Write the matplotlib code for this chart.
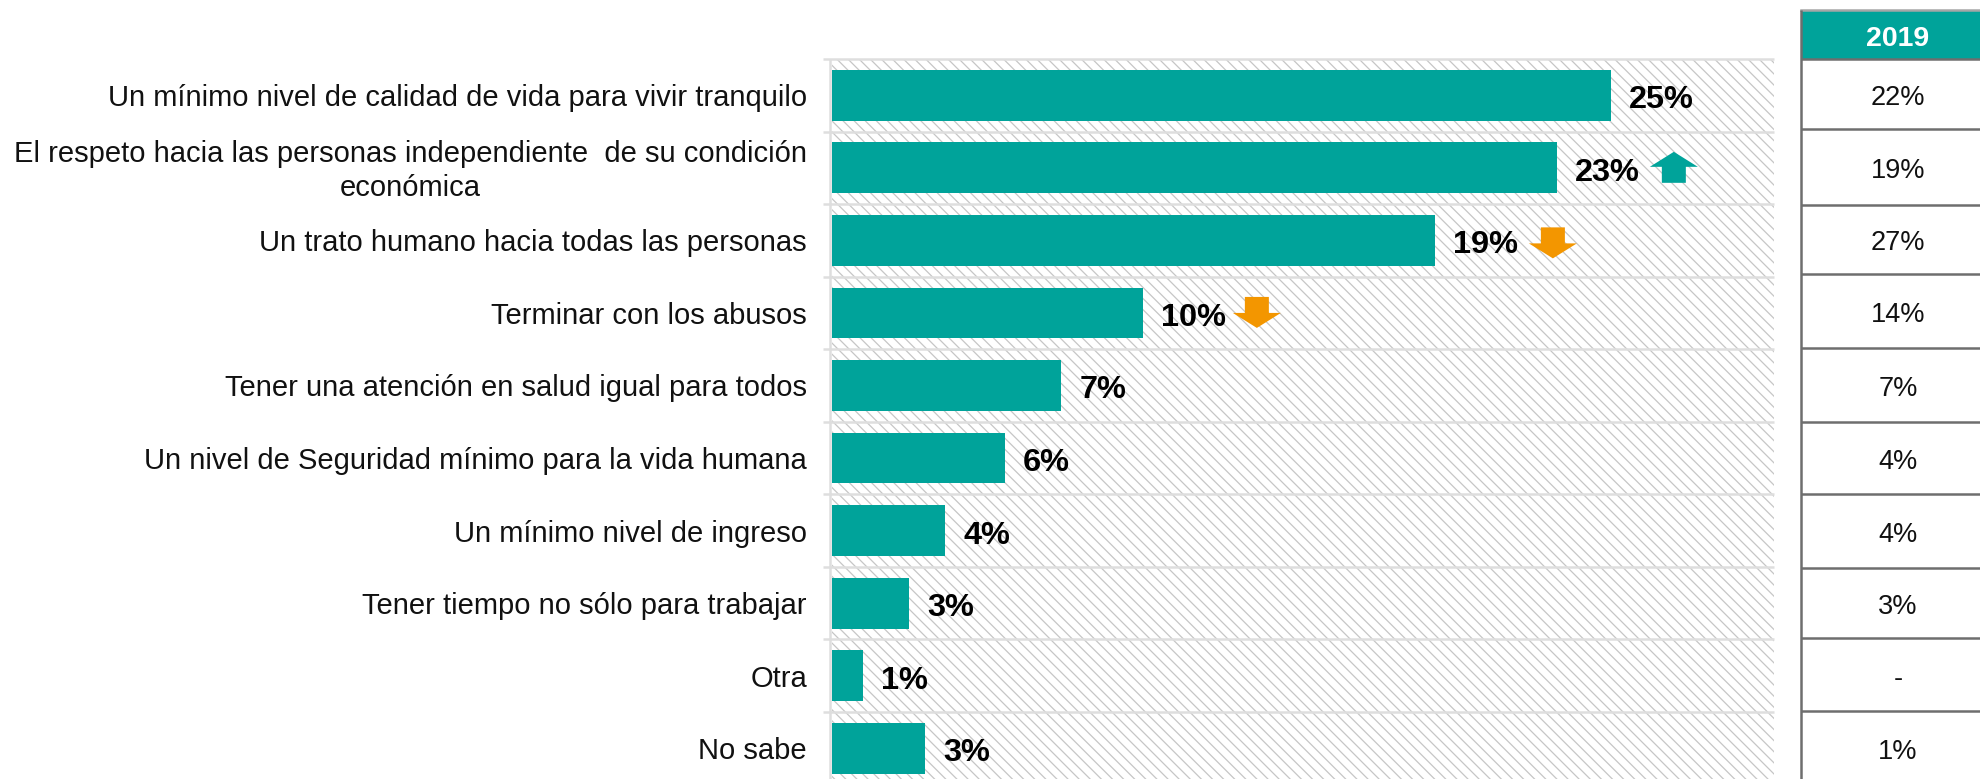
import matplotlib
matplotlib.use("Agg")
import matplotlib.pyplot as plt
from matplotlib.patches import Rectangle, Polygon

plt.rcParams['font.family'] = ['Liberation Sans', 'DejaVu Sans']
plt.rcParams['hatch.linewidth'] = 0.9
plt.rcParams['hatch.color'] = '#c6c6c6'

categorias = [
    "Un mínimo nivel de calidad de vida para vivir tranquilo",
    "El respeto hacia las personas independiente  de su condición\neconómica",
    "Un trato humano hacia todas las personas",
    "Terminar con los abusos",
    "Tener una atención en salud igual para todos",
    "Un nivel de Seguridad mínimo para la vida humana",
    "Un mínimo nivel de ingreso",
    "Tener tiempo no sólo para trabajar",
    "Otra",
    "No sabe",
]
valores = [24.8, 23.1, 19.2, 9.9, 7.3, 5.5, 3.6, 2.45, 1.0, 2.96]
etiquetas = ["25%", "23%", "19%", "10%", "7%", "6%", "4%", "3%", "1%", "3%"]
valores_2019 = ["22%", "19%", "27%", "14%", "7%", "4%", "4%", "3%", "-", "1%"]
cambios = [0, 1, -1, -1, 0, 0, 0, 0, 0, 0]

VERDE = '#00a39a'
NARANJA = '#f39600'
GRIS = '#dedede'
W, H = 1980, 779
filas = len(categorias)

fig = plt.figure(figsize=(W / 100, H / 100), dpi=100)

# GRAFICO DE BARRAS
# la ultima fila queda cortada por el borde como en el original
ax_top, ax_alto = 59, 72.55 * filas
ax = fig.add_axes([832 / W, 1 - (ax_top + ax_alto) / H, (1774 - 832) / W, ax_alto / H])
ax.set_xlim(0, 30)
ax.set_ylim(filas, 0)
ax.patch.set_visible(False)
ax.set_xticks([])
ax.set_yticks([])
for s in ax.spines.values():
    s.set_visible(False)

ax.add_patch(Rectangle((0, 0), 30, filas, facecolor='white', edgecolor='#c6c6c6',
                       hatch='\\\\\\', linewidth=0, zorder=0))

pos = [i + 0.5 for i in range(filas)]
ax.barh(pos, valores, height=0.7, color=VERDE, zorder=2)

px_x = 30 / (1774 - 832)
for i in range(filas + 1):
    ax.plot([-9 * px_x, 30], [i, i], color=GRIS, lw=1.8, zorder=1, clip_on=False, solid_capstyle='butt')
ax.plot([-2 * px_x, -2 * px_x], [0, filas], color=GRIS, lw=1.8, zorder=1, clip_on=False, solid_capstyle='butt')

for i in range(filas):
    ax.annotate(categorias[i], (0, pos[i]), xytext=(-25, -3), textcoords='offset pixels',
                ha='right', va='center', fontsize=21, multialignment='center',
                linespacing=1.25, color='#111111')
    ax.annotate(etiquetas[i], (valores[i], pos[i]), xytext=(18, -5), textcoords='offset pixels',
                ha='left', va='center', fontsize=23.4, fontweight='bold', color='black', zorder=3)

# FLECHAS respecto a 2019
flecha_dx = {1: 116.5, 2: 118, 3: 114}
flecha_dy = {1: 1, 2: -3, 3: 0}
forma = [(-24, 0), (0, 15), (24, 0), (12, 0), (12, -16), (-12, -16), (-12, 0)]
for i in range(filas):
    if cambios[i] == 0:
        continue
    base = ax.transData.transform((valores[i], pos[i]))
    x0 = base[0] + flecha_dx[i]
    y0 = base[1] + flecha_dy[i]
    color = VERDE if cambios[i] > 0 else NARANJA
    ax.add_patch(Polygon([(x0 + px, y0 + py * cambios[i]) for px, py in forma],
                         closed=True, transform=None, facecolor=color, edgecolor='none', zorder=3))

# TABLA 2019 (ejes en pixeles de la imagen)
lineas_tabla = [59, 129, 204.5, 274, 348, 422, 494, 568, 638, 711, 785]
tx = fig.add_axes([0, 0, 1, 1])
tx.set_xlim(0, W)
tx.set_ylim(H, 0)
tx.axis('off')
tx.patch.set_visible(False)

tx.add_patch(Rectangle((1801, 10), W - 1801, 49, facecolor=VERDE, edgecolor='none'))
tx.plot([1801, W], [10, 10], color='#a6a6a6', lw=1.8)
for y in lineas_tabla:
    tx.plot([1801, W], [y, y], color='#6e6e6e', lw=1.8, solid_capstyle='butt')
tx.plot([1801, 1801], [10, H], color='#6e6e6e', lw=1.8, solid_capstyle='butt')

tx.text(1898, 39, "2019", color='white', fontsize=20.5, fontweight='bold', ha='center', va='center')
for i in range(filas):
    yc = (lineas_tabla[i] + lineas_tabla[i + 1]) / 2
    tx.text(1898, yc + 4, valores_2019[i], color='#111111', fontsize=19.5, ha='center', va='center')

fig.savefig("out.png", dpi=100)
